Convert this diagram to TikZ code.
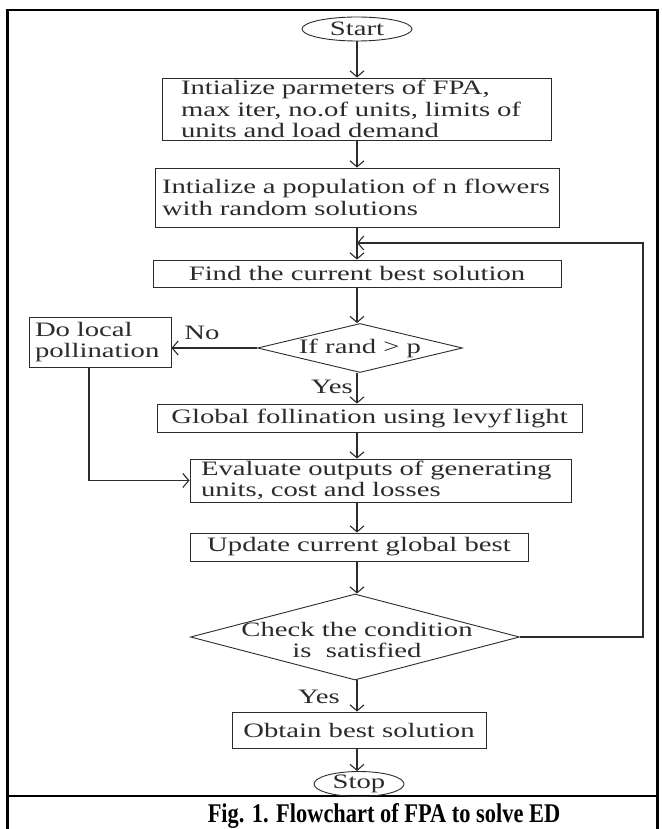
\documentclass[tikz,border=0pt]{standalone}
\usepackage{fontspec}
\setmainfont{Liberation Serif}[FakeStretch=1.40]
\newfontfamily\capfont{Liberation Serif}[FakeStretch=0.83]
\usetikzlibrary{shapes.geometric,arrows.meta,calc}
\definecolor{ink}{HTML}{2B2B2B}
\begin{document}
\begin{tikzpicture}[x=1pt,y=-1pt,
  every node/.style={text=ink, font=\fontsize{20.5pt}{21.5pt}\selectfont},
  box/.style={draw=ink, line width=0.9pt, rectangle, inner sep=0pt},
  term/.style={draw=ink, line width=0.9pt, ellipse, inner sep=0pt},
  dia/.style={draw=ink, line width=0.9pt, diamond, inner sep=0pt},
  arr/.style={draw=ink, line width=1.1pt, -{Straight Barb[length=6pt,width=14pt]}},
  frame/.style={draw=black, line width=2.5pt},
  lbl/.style={inner sep=0pt}]
\useasboundingbox (0,0) rectangle (661,829);
% frame
\draw[frame] (7.5,829) -- (7.5,10) -- (657.5,10) -- (657.5,829);
\draw[frame] (7.5,796) -- (657.5,796);
% nodes
\node[term, minimum width=110pt, minimum height=24pt] (start) at (357,29) {};
\node[lbl] (startt) at (start) {Start};
\node[box, text width=351pt, align=left, inner xsep=19pt, minimum height=62pt] (b1) at (356.5,109)
  {Intialize parmeters of FPA,\\max iter, no.of units, limits of\\units and load demand};
\node[box, text width=390pt, align=left, inner xsep=7pt, minimum height=59pt] (b2) at (357,197.5)
  {Intialize a population of n flowers\\with random solutions};
\node[box, minimum width=408pt, minimum height=27pt] (b3) at (357,273.5) {Find the current best solution};
\node[dia, minimum width=205pt, minimum height=49pt] (d1) at (360,348) {};
\node[lbl] (d1t) at (d1) {If rand > p};
\node[box, text width=130pt, align=left, inner xsep=6pt, minimum height=50pt] (local) at (100,342)
  {Do local\\pollination};
\node[box, minimum width=425pt, minimum height=28pt] (b4) at (369.5,418) {Global follination using levyf\,light};
\node[box, text width=359pt, align=left, inner xsep=11pt, minimum height=43pt] (b5) at (380.5,480.5)
  {Evaluate outputs of generating\\units, cost and losses};
\node[box, minimum width=338pt, minimum height=28pt] (b6) at (359,547) {Update current global best};
\node[dia, minimum width=329pt, minimum height=86pt] (d2) at (355,637) {};
\node[lbl, align=center] (d2t) at (357,640) {Check the condition\\is\ \ satisfied};
\node[box, minimum width=254pt, minimum height=36pt] (b7) at (359,730) {Obtain best solution};
\node[term, minimum width=90pt, minimum height=25pt] (stop) at (359,784) {};
\node[lbl] (stopt) at (stop) {Stop};
% labels
\node[lbl] (no) at (202,333) {No};
\node[lbl] (yes1) at (332,387) {Yes};
\node[lbl] (yes2) at (319,697) {Yes};
% connectors
\coordinate (lp) at (643,243);
\coordinate (lx) at (89,367);
\draw[arr] (start.south) -- (start.south |- b1.north);
\draw[arr] (b1.south -| start) -- (b2.north -| start);
\draw[arr] (b2.south -| start) -- (b3.north -| start);
\draw[arr] (d2.east) -| (lp) -- (lp -| start);
\draw[arr] (b3.south -| start) -- (d1.north -| start);
\draw[arr] (d1.west) -- (d1.west -| local.east);
\draw[arr] (d1.south -| start) -- (b4.north -| start);
\draw[arr] (b4.south -| start) -- (b5.north -| start);
\draw[arr] (local.south -| lx) |- (b5.west);
\draw[arr] (b5.south -| start) -- (b6.north -| start);
\draw[arr] (b6.south -| start) -- (d2.north -| start);
\draw[arr] (d2.south -| start) -- (b7.north -| start);
\draw[arr] (b7.south -| start) -- (stop.north -| start);
% caption
\node[anchor=base, text=black, inner sep=0pt, font=\capfont\fontsize{27pt}{30pt}\selectfont\bfseries] (cap) at (384,822)
  {Fig. 1. Flowchart of FPA to solve ED};
\end{tikzpicture}
\end{document}
